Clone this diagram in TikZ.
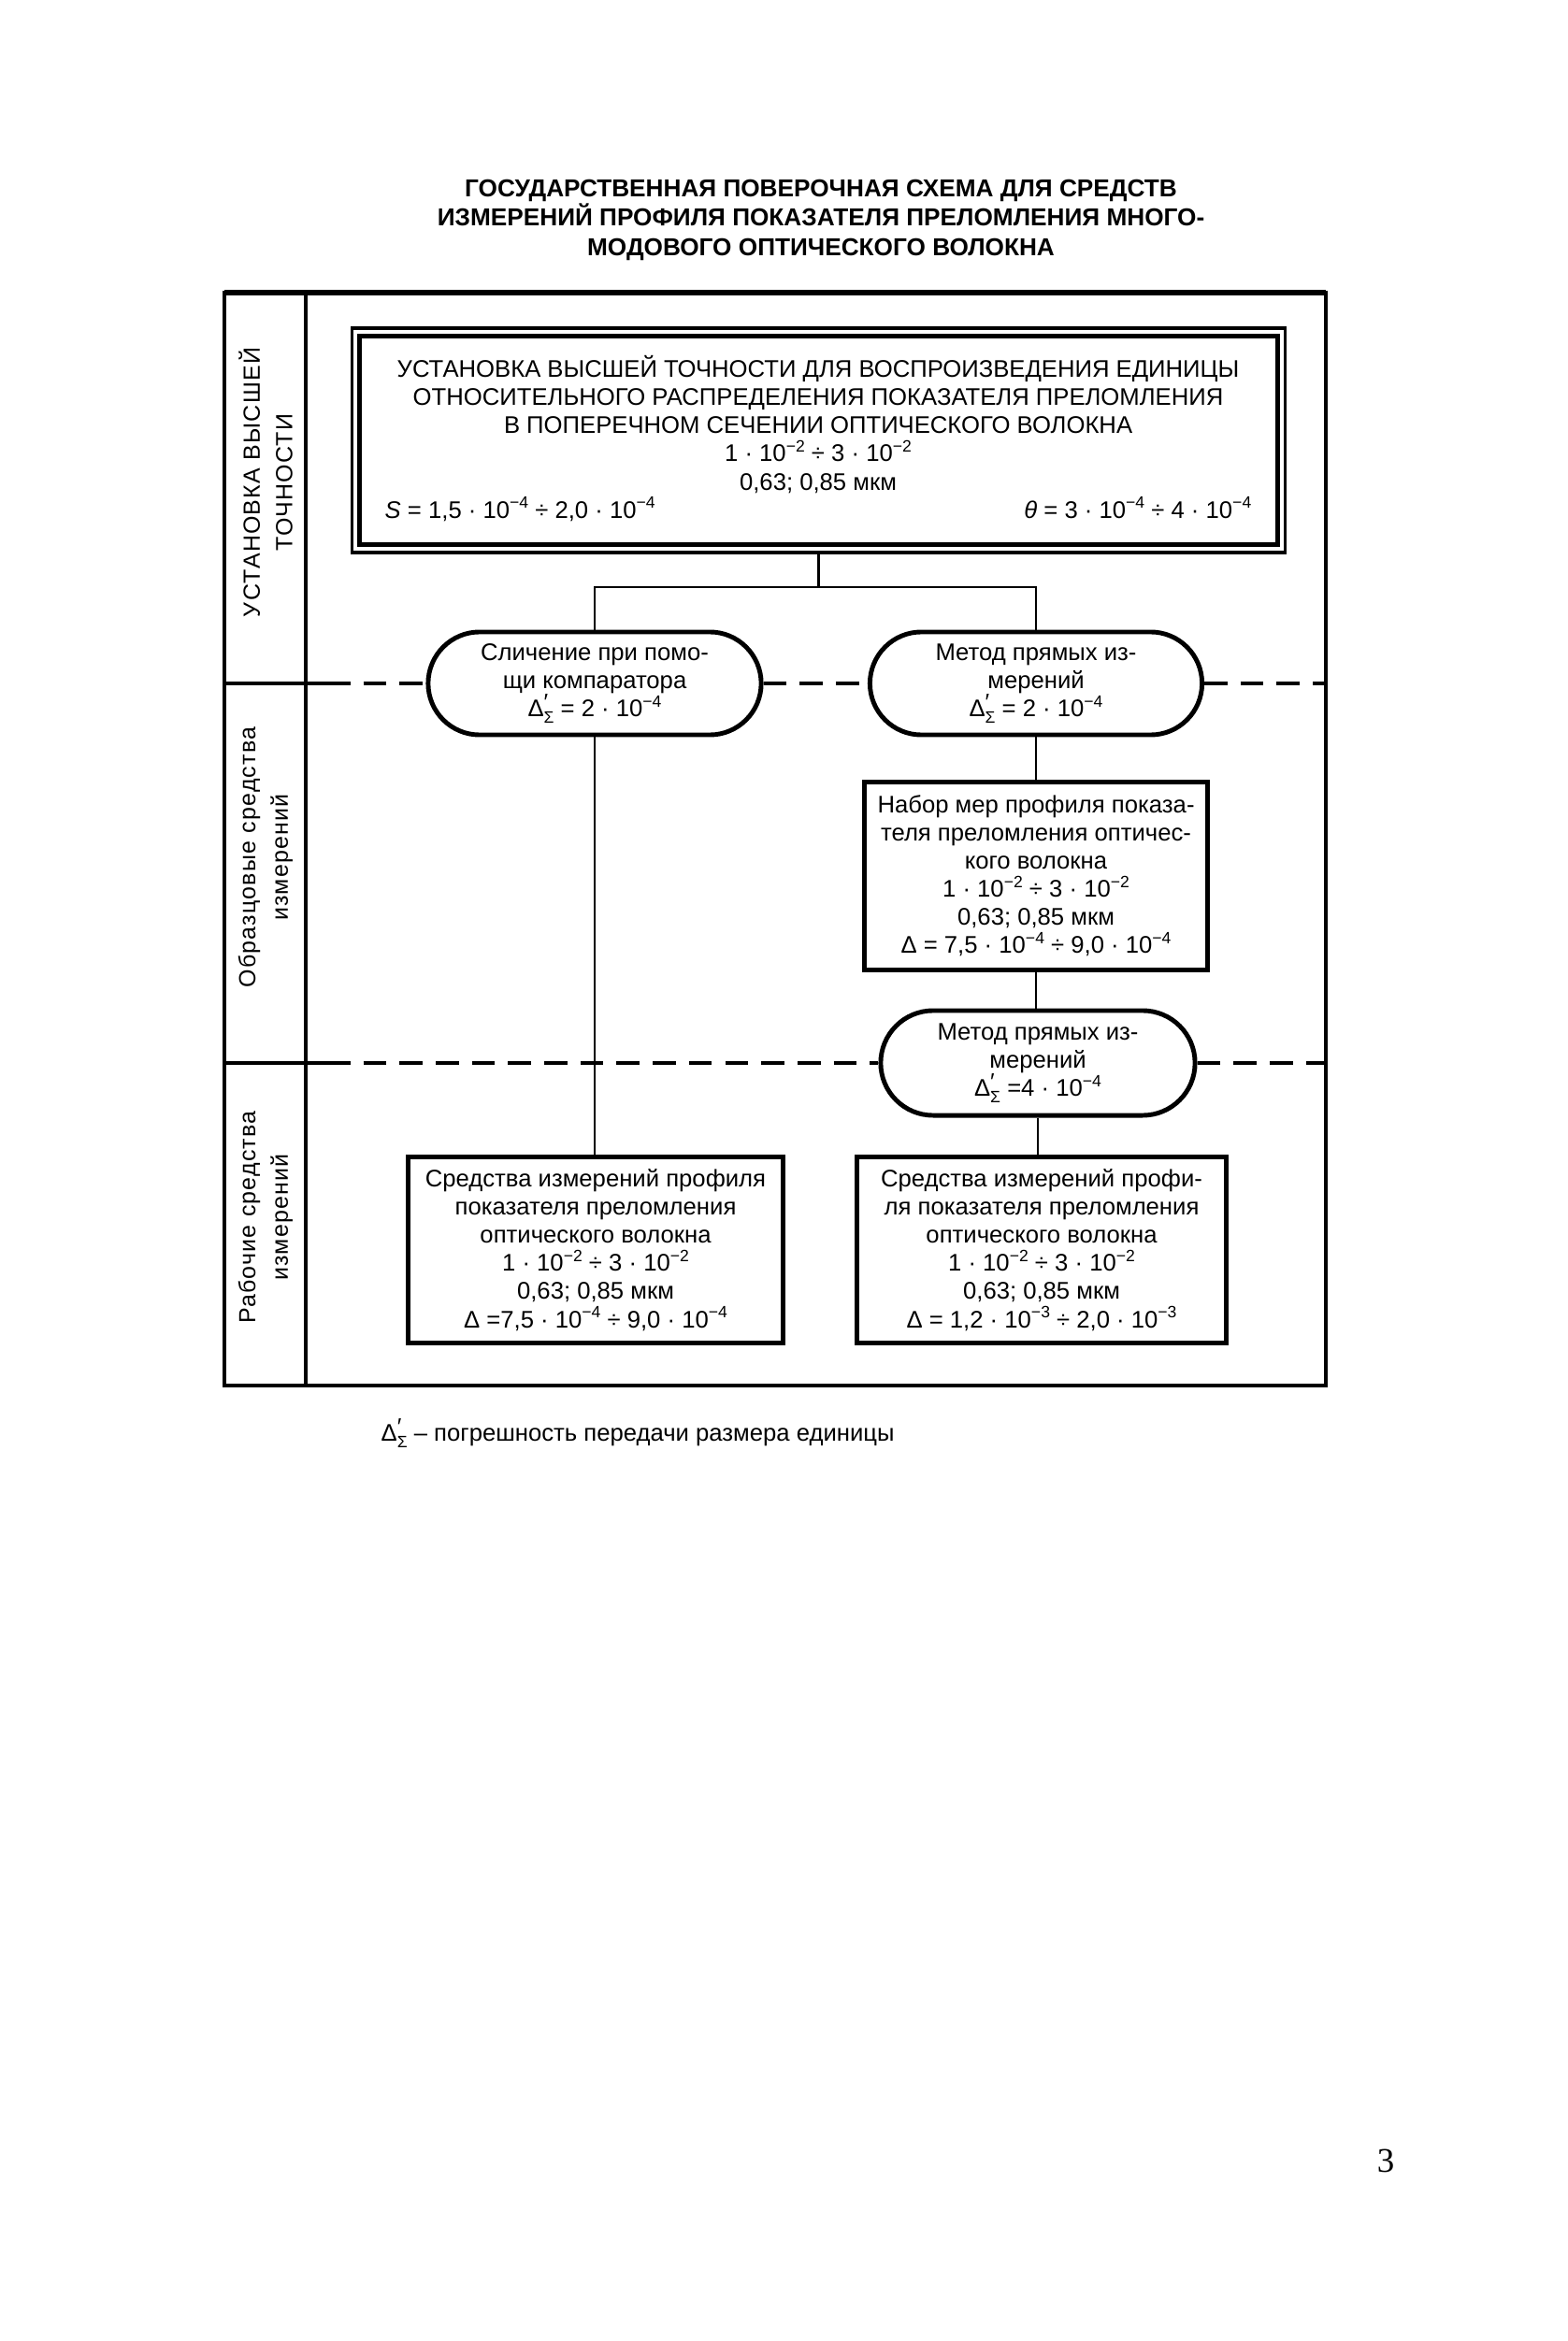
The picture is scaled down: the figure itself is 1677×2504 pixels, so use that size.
\documentclass[tikz,border=0pt]{standalone}
\usepackage{fontspec}
\setmainfont{Liberation Sans}
\newfontfamily\pgserif{Liberation Serif}
\newfontfamily\lblfont[LetterSpace=5]{Liberation Sans}
\usetikzlibrary{shapes.misc}
\newcommand\pw[1]{\raisebox{0.75ex}{\fontsize{5}{5}\selectfont #1}}
\newcommand\dls{Δ\rlap{\raisebox{0.55ex}{\fontsize{7}{7}\selectfont ′}}\raisebox{-0.5ex}{\fontsize{5}{5}\selectfont Σ}}
\begin{document}
\begin{tikzpicture}[x=0.01cm,y=-0.01cm,
  txt/.style={font=\fontsize{7.3}{8.55}\selectfont, align=center, inner sep=0pt},
  box/.style={txt, draw, line width=1.3pt},
  stad/.style={txt, draw, line width=1.4pt, rounded rectangle},
  conn/.style={line width=0.75pt},
  sepline/.style={line width=1.1pt, dash pattern=on 7pt off 4pt},
  lbl/.style={font=\lblfont\fontsize{7.1}{9.9}\selectfont, align=center, rotate=90, inner sep=0pt},
  ]
\useasboundingbox[fill=white] (0,0) rectangle (1677,2504);
% title
\node[font=\bfseries\fontsize{7.45}{8.95}\selectfont, align=center] (title) at (878,235)
  {ГОСУДАРСТВЕННАЯ ПОВЕРОЧНАЯ СХЕМА ДЛЯ СРЕДСТВ\\ИЗМЕРЕНИЙ ПРОФИЛЯ ПОКАЗАТЕЛЯ ПРЕЛОМЛЕНИЯ МНОГО-\\МОДОВОГО ОПТИЧЕСКОГО ВОЛОКНА};
% frame
\draw[line width=1pt] (240,313) rectangle (1418,1482);
\draw[line width=1.6pt] (240,313) -- (1418,313);
\draw[line width=1pt] (327,313) -- (327,1482);
% side labels
\node[lbl] (l1) at (284,516) {УСТАНОВКА ВЫСШЕЙ\\ТОЧНОСТИ};
\node[lbl] (l2) at (284,917) {Образцовые средства\\измерений};
\node[lbl] (l3) at (284,1302) {Рабочие средства\\измерений};
% top box
\node[box, line width=1pt, minimum width=9.97cm, minimum height=2.40cm] (top) at (875.5,471) {};
\draw[line width=1.4pt] ([shift={(10,-10)}]top.south west) rectangle ([shift={(-10,10)}]top.north east);
\node[txt] (toptxt) at (875,469) {УСТАНОВКА ВЫСШЕЙ ТОЧНОСТИ ДЛЯ ВОСПРОИЗВЕДЕНИЯ ЕДИНИЦЫ\\ОТНОСИТЕЛЬНОГО РАСПРЕДЕЛЕНИЯ ПОКАЗАТЕЛЯ ПРЕЛОМЛЕНИЯ\\В ПОПЕРЕЧНОМ СЕЧЕНИИ ОПТИЧЕСКОГО ВОЛОКНА\\1 · 10\pw{−2} ÷ 3 · 10\pw{−2}\\0,63; 0,85 мкм\\\makebox[9.26cm]{\textit{S} = 1,5 · 10\pw{−4} ÷ 2,0 · 10\pw{−4}\hfill\textit{θ} = 3 · 10\pw{−4} ÷ 4 · 10\pw{−4}}};
% stadiums and boxes
\node[stad, minimum width=3.56cm, minimum height=1.10cm] (s1) at (636,731) {Сличение при помо-\\щи компаратора\\\dls{} = 2 · 10\pw{−4}};
\node[stad, minimum width=3.55cm, minimum height=1.10cm] (s2) at (1108,731) {Метод прямых из-\\мерений\\\dls{} = 2 · 10\pw{−4}};
\node[box, minimum width=3.67cm, minimum height=2.01cm] (nab) at (1108,937) {Набор мер профиля показа-\\теля преломления оптичес-\\кого волокна\\1 · 10\pw{−2} ÷ 3 · 10\pw{−2}\\0,63; 0,85 мкм\\Δ = 7,5 · 10\pw{−4} ÷ 9,0 · 10\pw{−4}};
\node[stad, minimum width=3.36cm, minimum height=1.12cm] (s3) at (1110,1137) {Метод прямых из-\\мерений\\\dls{} =4 · 10\pw{−4}};
\node[box, minimum width=4.01cm, minimum height=1.99cm] (bl) at (637,1337) {Средства измерений профиля\\показателя преломления\\оптического волокна\\1 · 10\pw{−2} ÷ 3 · 10\pw{−2}\\0,63; 0,85 мкм\\Δ =7,5 · 10\pw{−4} ÷ 9,0 · 10\pw{−4}};
\node[box, minimum width=3.95cm, minimum height=1.99cm] (br) at (1114,1337) {Средства измерений профи-\\ля показателя преломления\\оптического волокна\\1 · 10\pw{−2} ÷ 3 · 10\pw{−2}\\0,63; 0,85 мкм\\Δ = 1,2 · 10\pw{−3} ÷ 2,0 · 10\pw{−3}};
% connectors
\coordinate (j) at (875.5,628);
\draw[conn] (top.south) -- (j);
\draw[conn] (j) -| (s1.north);
\draw[conn] (j) -| (s2.north);
\draw[conn] (s1.south) -- (s1.south |- bl.north);
\draw[conn] (s2.south) -- (s2.south |- nab.north);
\draw[conn] (nab.south) -- (nab.south |- s3.north);
\draw[conn] (s3.south) -- (s3.south |- br.north);
% separators
\coordinate (a1) at (240,731);
\coordinate (a2) at (350,731);
\coordinate (a3) at (1418,731);
\draw[line width=1.1pt] (a1) -- (a2);
\draw[sepline] (a2) -- (s1.west);
\draw[sepline] (s1.east) -- (s2.west);
\draw[sepline] (s2.east) -- (a3);
\coordinate (b1) at (240,1137);
\coordinate (b2) at (350,1137);
\coordinate (b3) at (1418,1137);
\draw[line width=1.1pt] (b1) -- (b2);
\draw[sepline] (b2) -- (s3.west);
\draw[sepline] (s3.east) -- (b3);
% footnote
\node[txt, anchor=west] (fn) at (407,1533) {\dls{} – погрешность передачи размера единицы};
% page number
\node[font=\pgserif\fontsize{10.5}{12}\selectfont] (pg) at (1482,2311) {3};
\end{tikzpicture}
\end{document}
